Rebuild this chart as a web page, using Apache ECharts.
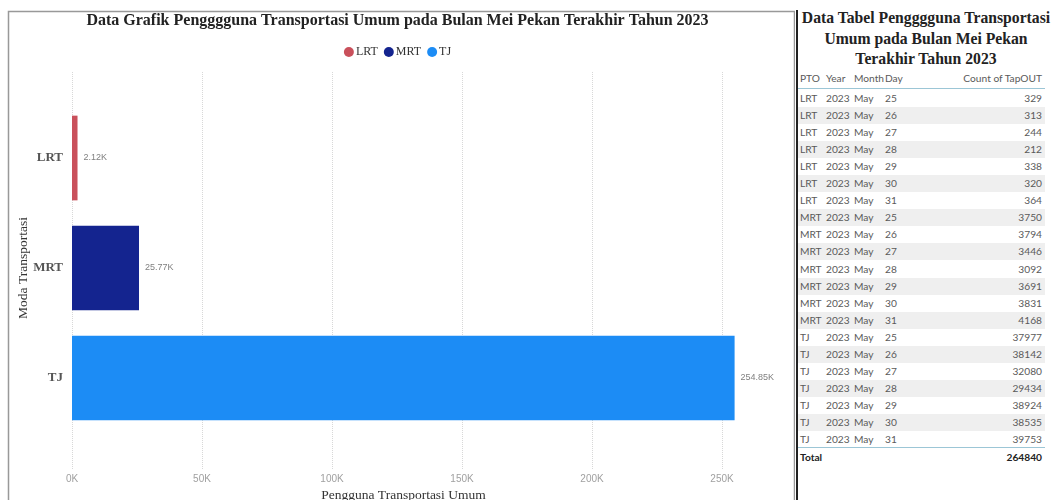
<!DOCTYPE html>
<html>
<head>
<meta charset="utf-8">
<script src="https://cdn.jsdelivr.net/npm/echarts@6/dist/echarts.min.js"></script>
<style>
html,body{margin:0;padding:0;background:#fff;width:1052px;height:500px;overflow:hidden;}
#chart{position:absolute;left:0;top:0;width:795px;height:500px;}
#sep{position:absolute;left:796px;top:10px;width:2px;height:490px;background:#222;}
#tbl{position:absolute;left:798px;top:0;width:254px;height:500px;font-family:Lato,"Open Sans",sans-serif;color:#5a5a5a;font-size:10.2px;}
#ttl{position:absolute;left:0;top:8px;width:256px;text-align:center;font-family:"Liberation Serif",serif;font-weight:bold;font-size:15.7px;line-height:20.5px;color:#222;white-space:nowrap;}
.row{position:absolute;left:0;width:247px;height:17px;line-height:17px;}
.row span{position:absolute;top:0;white-space:nowrap;}
.c0{left:2px}.c1{left:28px}.c2{left:56px}.c3{left:86px;width:14px;text-align:center}.c4{right:3px}
.hdr .c3{left:87px}
.shade{background:#efefef;}
.hline{position:absolute;left:0;width:247px;height:1px;background:#9cc6d6;}
</style>
</head>
<body>
<div id="chart"></div>
<div id="sep"></div>
<div id="tbl"></div>
<script>
// ---- data ----
const categories = ['LRT', 'MRT', 'TJ'];
const barTotals = [2120, 25772, 254845];
const xTickStep = 50000;
const xMax = 255000;
const chartTitle = 'Data Grafik Pengggguna Transportasi Umum pada Bulan Mei Pekan Terakhir Tahun 2023';
const xAxisName = 'Pengguna Transportasi Umum';
const yAxisName = 'Moda Transportasi';

const tableTitle = ['Data Tabel Pengggguna Transportasi', 'Umum pada Bulan Mei Pekan', 'Terakhir Tahun 2023'];
const tableHeader = ['PTO', 'Year', 'Month', 'Day', 'Count of TapOUT'];
const tablePTO = ['LRT','LRT','LRT','LRT','LRT','LRT','LRT','MRT','MRT','MRT','MRT','MRT','MRT','MRT','TJ','TJ','TJ','TJ','TJ','TJ','TJ'];
const tableYear = [2023,2023,2023,2023,2023,2023,2023,2023,2023,2023,2023,2023,2023,2023,2023,2023,2023,2023,2023,2023,2023];
const tableMonth = ['May','May','May','May','May','May','May','May','May','May','May','May','May','May','May','May','May','May','May','May','May'];
const tableDay = [25,26,27,28,29,30,31,25,26,27,28,29,30,31,25,26,27,28,29,30,31];
const tableCount = [329,313,244,212,338,320,364,3750,3794,3446,3092,3691,3831,4168,37977,38142,32080,29434,38924,38535,39753];
const tableTotalLabel = 'Total';
const tableTotalValue = '264840';

// ---- styles ----
const colors = ['#C9505B', '#14248F', '#1C8CF5'];

const chart = echarts.init(document.getElementById('chart'), null, {renderer: 'canvas'});
const serif = '"Liberation Serif", serif';
const narrow = '"Liberation Sans Narrow","Liberation Sans",sans-serif';
const fmtK = v => (Math.round(v / 10) / 100).toFixed(2) + 'K';
const option = {
  animation: false,
  backgroundColor: '#fff',
  title: {
    text: chartTitle, left: 'center', top: 8,
    textStyle: {fontFamily: serif, fontWeight: 'bold', fontSize: 16, color: '#222'}
  },
  legend: {
    top: 41, left: 'center', icon: 'circle', itemWidth: 10, itemHeight: 10, itemGap: 6,
    data: categories,
    textStyle: {fontFamily: serif, fontSize: 12, color: '#333', padding: [0, 0, 0, -3]}
  },
  graphic: [{
    type: 'rect', silent: true, z: -10,
    shape: {x: 8.5, y: 11.5, width: 786, height: 500},
    style: {fill: null, stroke: '#999', lineWidth: 1.5}
  }],
  grid: [
    {left: 72, right: 60, top: 103, bottom: 67, outerBoundsMode: 'none', containLabel: false},
    {left: 72, right: 60, top: 72, bottom: 30, outerBoundsMode: 'none', containLabel: false}
  ],
  xAxis: [
    {gridIndex: 0, type: 'value', min: 0, max: xMax, show: false},
    {
      gridIndex: 1, type: 'value', min: 0, max: xMax, interval: xTickStep,
      axisLine: {show: false}, axisTick: {show: false},
      splitLine: {show: true, showMaxLine: false, lineStyle: {type: 'dotted', color: '#d8d8d8'}},
      axisLabel: {formatter: v => (v / 1000) + 'K', showMaxLabel: false, color: '#a0a0a0', fontSize: 10, margin: 4, fontFamily: narrow},
      name: xAxisName, nameLocation: 'middle', nameGap: 18, nameMoveOverlap: false,
      nameTextStyle: {fontFamily: serif, fontSize: 13.5, color: '#333'}
    }
  ],
  yAxis: [
    {
      gridIndex: 0, type: 'category', data: categories, inverse: true,
      axisLine: {show: false}, axisTick: {show: false}, splitLine: {show: false},
      axisLabel: {margin: 9, fontWeight: 'bold', fontFamily: serif, fontSize: 13, color: '#555'},
      name: yAxisName, nameLocation: 'middle', nameGap: 42, nameMoveOverlap: false,
      nameTextStyle: {fontFamily: serif, fontSize: 13.5, color: '#333'}
    },
    {gridIndex: 1, type: 'value', show: false}
  ],
  series: categories.map((c, i) => ({
    name: c, type: 'bar', stack: 'total', xAxisIndex: 0, yAxisIndex: 0,
    barCategoryGap: '23%',
    data: barTotals.map((v, j) => j === i ? v : '-'),
    itemStyle: {color: colors[i]},
    label: {
      show: true, position: 'right', distance: 6,
      formatter: p => fmtK(p.value),
      fontSize: 9, color: '#808080', fontFamily: narrow
    }
  }))
};
chart.setOption(option);

// ---- table ----
const tbl = document.getElementById('tbl');
const ttl = document.createElement('div');
ttl.id = 'ttl';
ttl.innerHTML = tableTitle.join('<br>');
tbl.appendChild(ttl);

function addRow(top, cells, cls, bold) {
  const r = document.createElement('div');
  r.className = 'row' + (cls ? ' ' + cls : '');
  r.style.top = top + 'px';
  cells.forEach((t, k) => {
    if (t === '' || t == null) return;
    const s = document.createElement('span');
    s.className = 'c' + k;
    s.textContent = t;
    if (bold) { s.style.fontWeight = 'bold'; s.style.color = '#222'; }
    r.appendChild(s);
  });
  tbl.appendChild(r);
}
addRow(70, tableHeader, 'hdr', false);
const hl = document.createElement('div'); hl.className = 'hline'; hl.style.top = '88px'; tbl.appendChild(hl);
const rowH = 17.05;
tablePTO.forEach((p, i) => {
  addRow(90 + i * rowH, [p, tableYear[i], tableMonth[i], tableDay[i], tableCount[i]], i % 2 === 1 ? 'shade' : '', false);
});
const tTop = 90 + tablePTO.length * rowH;
const hl2 = document.createElement('div'); hl2.className = 'hline'; hl2.style.top = (tTop - 1) + 'px'; tbl.appendChild(hl2);
addRow(tTop + 1, [tableTotalLabel, '', '', '', tableTotalValue], '', true);
</script>
</body>
</html>
